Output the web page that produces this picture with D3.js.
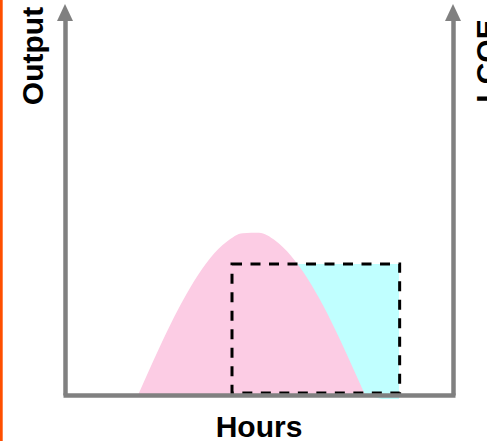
<!DOCTYPE html>
<html>
<head>
<meta charset="utf-8">
<script src="https://cdn.jsdelivr.net/npm/d3@7"></script>
<style>
  html, body { margin: 0; padding: 0; background: #fff; }
  svg { display: block; }
  text { font-family: "Liberation Sans", Arial, sans-serif; font-weight: bold; fill: #000; }
</style>
</head>
<body>
<svg id="chart"></svg>
<script>
// solar output over the day
const hours = [4.52, 5, 6, 7, 8, 9, 10, 11, 12, 13, 14, 15, 16, 17, 18, 18.56];
const output = [0, 4.5, 13.6, 22.0, 29.3, 35.2, 39.3, 41.5, 41.6, 39.6, 35.6, 29.9, 22.7, 14.3, 5.2, 0];

// dashed block (flat supply window)
const blockHours = [10.33, 20.7];
const blockLevel = 33.6;

// cyan shortfall region
const gapHours = [14.35, 20.66, 20.66, 19.6, 18.56];
const gapOutput = [33.6, 33.6, -1, -1, 0];

const width = 487, height = 441;

const svg = d3.select("#chart")
  .attr("width", width)
  .attr("height", height);

const x = d3.scaleLinear().domain([0, 24]).range([65, 453]);
const y = d3.scaleLinear().domain([0, 100]).range([395, 5]);

// orange edge
svg.append("rect")
  .attr("x", 0).attr("y", 0)
  .attr("width", 2.7).attr("height", height)
  .style("fill", "#ff4f00");

// cyan area
const gap = gapHours.map((h, i) => [x(h), y(gapOutput[i])]);
svg.append("path")
  .attr("d", d3.line()(gap) + "Z")
  .style("fill", "#c0ffff");

// pink output curve
const pts = hours.map((h, i) => ({ h: h, v: output[i] }));
svg.append("path")
  .datum(pts)
  .attr("d", d3.area()
    .x(d => x(d.h))
    .y0(y(0))
    .y1(d => y(d.v))
    .curve(d3.curveMonotoneX))
  .style("fill", "#fccce4");

// dashed block
svg.append("rect")
  .attr("x", x(blockHours[0]))
  .attr("y", y(blockLevel))
  .attr("width", x(blockHours[1]) - x(blockHours[0]))
  .attr("height", y(0) - y(blockLevel) - 2)
  .style("fill", "none")
  .style("stroke", "#000")
  .style("stroke-width", 3)
  .style("stroke-dasharray", "10,8.5");

// axes
const axisColor = "#808080";
const gLeft = svg.append("g")
  .attr("transform", `translate(${x(0)},0)`)
  .call(d3.axisLeft(y.copy().range([395, 20])).ticks(0).tickSizeOuter(0));
const gRight = svg.append("g")
  .attr("transform", `translate(${x(24)},0)`)
  .call(d3.axisRight(y.copy().range([395, 20])).ticks(0).tickSizeOuter(0));
const gBottom = svg.append("g")
  .attr("transform", `translate(0,${y(0)})`)
  .call(d3.axisBottom(x.copy().range([63, 455])).ticks(0).tickSizeOuter(0));

[gLeft, gRight, gBottom].forEach(g => {
  g.select(".domain")
    .style("stroke", axisColor)
    .style("stroke-width", 4.5);
});

// arrow heads
[x(0), x(24)].forEach(ax => {
  svg.append("path")
    .attr("d", `M${ax},4 L${ax + 8},21 L${ax - 8},21 Z`)
    .style("fill", axisColor);
});

// labels
svg.append("text")
  .attr("transform", "translate(43,56) rotate(-90)")
  .attr("text-anchor", "middle")
  .style("font-size", "30px")
  .text("Output");

svg.append("text")
  .attr("transform", "translate(497,61) rotate(-90)")
  .attr("text-anchor", "middle")
  .style("font-size", "30px")
  .text("LCOE");

svg.append("text")
  .attr("x", 259)
  .attr("y", 437)
  .attr("text-anchor", "middle")
  .style("font-size", "30px")
  .text("Hours");
</script>
</body>
</html>
